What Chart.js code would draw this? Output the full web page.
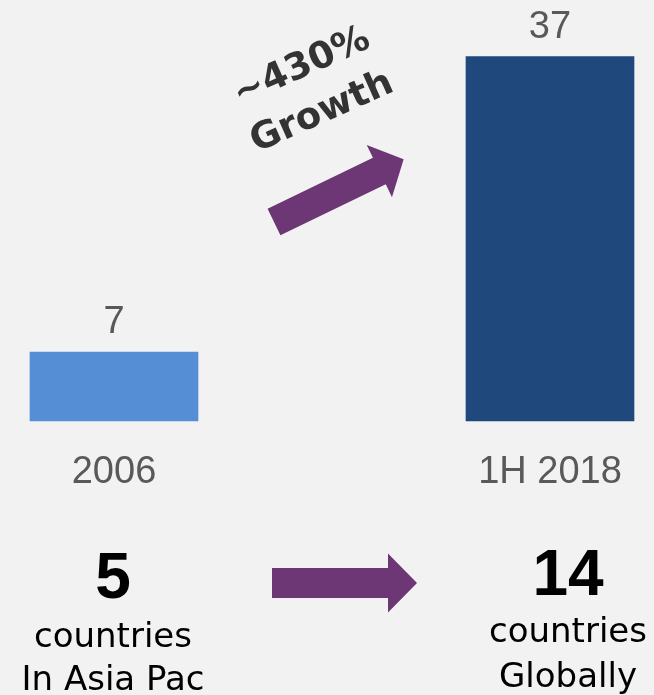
<!DOCTYPE html>
<html>
<head>
<meta charset="utf-8">
<script src="https://cdn.jsdelivr.net/npm/chart.js@4/dist/chart.umd.min.js"></script>
<style>
  html, body { margin: 0; padding: 0; background: #f2f2f2; }
  #wrap { width: 654px; height: 695px; position: relative; }
</style>
</head>
<body>
<div id="wrap"><canvas id="growthChart" width="654" height="695"></canvas></div>
<script>
// data
const categories = ["2006", "1H 2018"];
const programCounts = [7, 37];
const barColors = ["#558ed5", "#1f497d"];
const countryCounts = ["5", "14"];
const countryLines = [["countries", "In Asia Pac"], ["countries", "Globally"]];
const growthLabel = ["~430%", "Growth"];

const purple = "#6c3774";

// arrows, growth text and the country counts under the axis
const overlayPlugin = {
    id: "overlay",
    afterDatasetsDraw(chart) {
        const ctx = chart.ctx;
        const meta = chart.getDatasetMeta(0);

        // value labels above the bars
        ctx.save();
        ctx.fillStyle = "#595959";
        ctx.font = "38px 'Liberation Sans', Arial, sans-serif";
        ctx.textAlign = "center";
        ctx.textBaseline = "alphabetic";
        meta.data.forEach((bar, i) => {
            ctx.fillText(String(programCounts[i]), bar.x, bar.y - 19);
        });
        ctx.restore();

        // diagonal arrow
        ctx.save();
        ctx.translate(274, 222);
        ctx.rotate(-25.8 * Math.PI / 180);
        drawArrow(ctx, 144, 29.5, 27, 58);
        ctx.restore();

        // horizontal arrow
        ctx.save();
        ctx.translate(272, 583);
        drawArrow(ctx, 145, 30, 29, 59);
        ctx.restore();

        // rotated growth text
        ctx.save();
        ctx.translate(312, 90);
        ctx.rotate(-24 * Math.PI / 180);
        ctx.fillStyle = "#333333";
        ctx.font = "bold 37px 'DejaVu Sans', sans-serif";
        ctx.textAlign = "center";
        ctx.textBaseline = "middle";
        ctx.fillText(growthLabel[0], 0, -25);
        ctx.fillText(growthLabel[1], 0, 25);
        ctx.restore();

        // counts under the axis
        const centers = [113, 568];
        const numBase = [598, 595];
        const lineBase = [[647, 690], [642, 687]];
        ctx.save();
        ctx.fillStyle = "#000000";
        ctx.textAlign = "center";
        ctx.textBaseline = "alphabetic";
        centers.forEach((cx, i) => {
            ctx.font = "bold 64px 'Liberation Sans', Arial, sans-serif";
            ctx.fillText(countryCounts[i], cx, numBase[i]);
            ctx.font = "34px 'DejaVu Sans', sans-serif";
            countryLines[i].forEach((t, j) => ctx.fillText(t, cx, lineBase[i][j]));
        });
        ctx.restore();
    }
};

// arrow pointing along +x from the origin
function drawArrow(ctx, len, shaft, headLen, headWidth) {
    ctx.fillStyle = purple;
    ctx.beginPath();
    ctx.moveTo(0, -shaft / 2);
    ctx.lineTo(len - headLen, -shaft / 2);
    ctx.lineTo(len - headLen, -headWidth / 2);
    ctx.lineTo(len, 0);
    ctx.lineTo(len - headLen, headWidth / 2);
    ctx.lineTo(len - headLen, shaft / 2);
    ctx.lineTo(0, shaft / 2);
    ctx.closePath();
    ctx.fill();
}

new Chart(document.getElementById("growthChart"), {
    type: "bar",
    data: {
        labels: categories,
        datasets: [{
            data: programCounts,
            backgroundColor: barColors,
            barThickness: 168,
            clip: false
        }]
    },
    options: {
        responsive: false,
        animation: false,
        layout: { padding: { top: 27, left: 114, right: 104, bottom: 0 } },
        plugins: { legend: { display: false }, tooltip: { enabled: false } },
        scales: {
            x: {
                offset: false,
                grid: { display: false, drawTicks: false },
                border: { display: false },
                ticks: {
                    color: "#595959",
                    padding: 29,
                    maxRotation: 0,
                    font: { family: "'Liberation Sans', Arial, sans-serif", size: 38 }
                },
                afterFit(scale) { scale.height = 274; }
            },
            y: {
                display: false,
                min: 0,
                max: 40
            }
        }
    },
    plugins: [overlayPlugin]
});
</script>
</body>
</html>
